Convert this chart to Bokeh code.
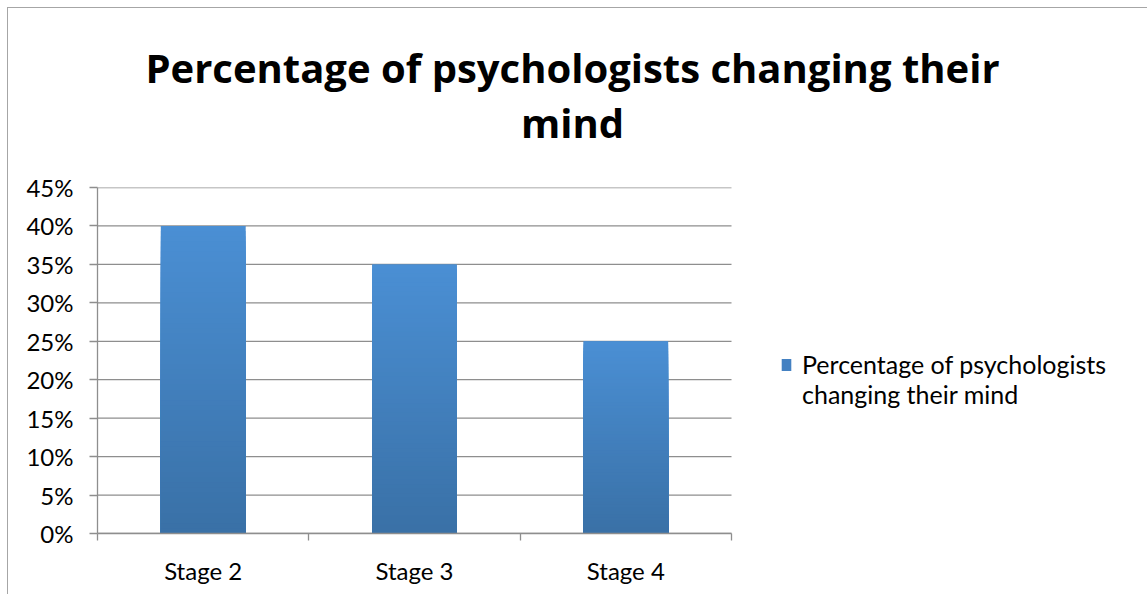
from bokeh.plotting import figure
from bokeh.layouts import column
from bokeh.models import (Range1d, FixedTicker, NumeralTickFormatter, CustomJSTickFormatter,
                          Legend, LegendItem, ColumnDataSource, Div)
from bokeh.embed import file_html
from bokeh.resources import INLINE

# ---- data ----
categories = ["Stage 2", "Stage 3", "Stage 4"]
values = [0.40, 0.35, 0.25]
y_ticks = [0.0, 0.05, 0.10, 0.15, 0.20, 0.25, 0.30, 0.35, 0.40, 0.45]
series_lines = ["Percentage of psychologists", "changing their mind"]
title_lines = ["Percentage of psychologists changing their", "mind"]

FONT = "Lato"
GRID = "#8e8e8e"
TOP_RGB = (75, 144, 213)
BOT_RGB = (58, 113, 167)
W = 1131
LEFT = 89
PLOT_W = 634            # width of the category area in px
FRAME_W = W - LEFT      # frame extends to the right edge so the legend is not clipped
n = len(categories)
x_end = n * FRAME_W / PLOT_W

title = Div(text=("<div style=\"padding-top:27px;line-height:55px;text-align:center;"
                  "font-family:'Open Sans';font-weight:bold;font-size:40px;color:black;"
                  "width:1119px\">%s<br>%s</div>" % (title_lines[0], title_lines[1])),
            width=W, height=140)

p = figure(frame_width=FRAME_W, frame_height=346, output_backend="svg", toolbar_location=None,
           x_range=Range1d(0, x_end), y_range=Range1d(0, y_ticks[-1]),
           min_border_left=LEFT, min_border_right=0, min_border_top=29, min_border_bottom=61)
p.outline_line_color = None
p.background_fill_color = "white"
p.border_fill_color = "white"

# horizontal gridlines limited to the category area
p.segment(x0=[0] * len(y_ticks), x1=[n] * len(y_ticks), y0=y_ticks, y1=y_ticks,
          line_color=GRID, line_width=1.3)

xs = [i + 0.5 for i in range(n)]
BAR_W = 0.40

# base bars (used for legend)
src = ColumnDataSource(dict(x=xs, top=values))
base = p.vbar(x="x", top="top", width=BAR_W, source=src,
              fill_color="#4481c2", line_color=None)
# transparent copy, only to hold the legend's second text line
ghost = p.vbar(x="x", top="top", width=BAR_W, source=src,
               fill_alpha=0, line_alpha=0)

# vertical gradient: overlapping bars, tallest (lightest top) first
N = 60
gx, gtop, gcol = [], [], []
for k in range(N, 0, -1):
    f = k / N
    t = (f - 1 / N)
    r = int(BOT_RGB[0] + (TOP_RGB[0] - BOT_RGB[0]) * t)
    g = int(BOT_RGB[1] + (TOP_RGB[1] - BOT_RGB[1]) * t)
    b = int(BOT_RGB[2] + (TOP_RGB[2] - BOT_RGB[2]) * t)
    for x, v in zip(xs, values):
        gx.append(x)
        gtop.append(v * f)
        gcol.append("#%02x%02x%02x" % (r, g, b))
p.vbar(x=gx, top=gtop, width=BAR_W, fill_color=gcol, line_color=None)

# y axis
p.yaxis.ticker = FixedTicker(ticks=y_ticks)
p.yaxis.formatter = NumeralTickFormatter(format="0%")
p.yaxis.axis_line_color = GRID
p.yaxis.axis_line_width = 1.3
p.yaxis.major_tick_line_color = GRID
p.yaxis.major_tick_line_width = 1.3
p.yaxis.major_tick_out = 8
p.yaxis.major_tick_in = 0
p.yaxis.minor_tick_line_color = None
p.yaxis.major_label_standoff = 16
p.yaxis.major_label_text_font = FONT
p.yaxis.major_label_text_font_size = "24px"
p.yaxis.major_label_text_color = "black"

# x axis
p.xaxis.bounds = (0, n)
p.xaxis.ticker = FixedTicker(ticks=xs, minor_ticks=list(range(n + 1)))
p.xaxis.formatter = CustomJSTickFormatter(args=dict(cats=categories),
                                          code="return cats[Math.floor(tick)] || '';")
p.xaxis.axis_line_color = GRID
p.xaxis.axis_line_width = 1.5
p.xaxis.major_tick_line_color = None
p.xaxis.minor_tick_line_color = GRID
p.xaxis.minor_tick_line_width = 1.3
p.xaxis.minor_tick_out = 7
p.xaxis.minor_tick_in = 0
p.xaxis.major_label_standoff = 15
p.xaxis.major_label_text_font = FONT
p.xaxis.major_label_text_font_size = "24px"
p.xaxis.major_label_text_color = "black"

p.xgrid.grid_line_color = None
p.ygrid.grid_line_color = None

# legend (inside the extended frame, to the right of the bars)
legend = Legend(items=[LegendItem(label=series_lines[0], renderers=[base]),
                       LegendItem(label=series_lines[1], renderers=[ghost])],
                location=(683, 124), orientation="vertical",
                glyph_width=12, glyph_height=15, label_standoff=10,
                padding=0, margin=0, spacing=0,
                border_line_color=None, background_fill_alpha=0,
                label_text_font=FONT, label_text_font_size="25px", label_text_color="black")
p.add_layout(legend, "center")

layout = column(title, p, spacing=0,
                styles={"margin-left": "7px", "margin-top": "7px",
                        "border-left": "1px solid #a6a6a6", "border-top": "1px solid #a6a6a6",
                        "border-right": "1px solid #a6a6a6", "background": "white"})

open("out.html", "w").write(file_html(layout, INLINE))
